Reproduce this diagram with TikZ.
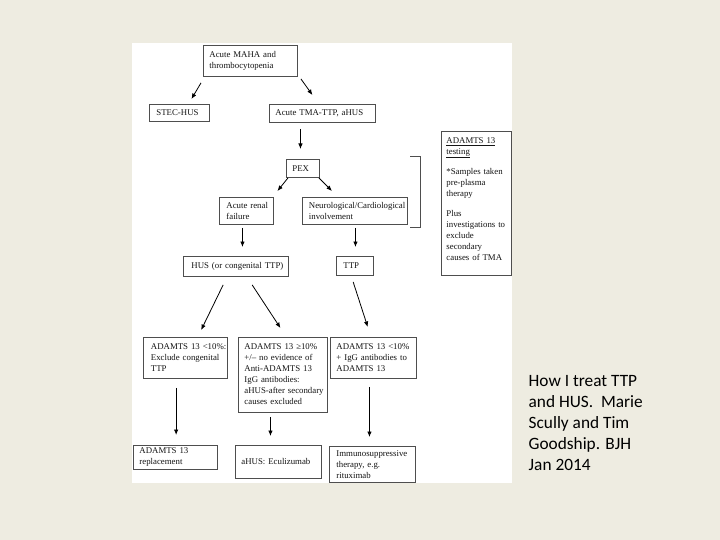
\documentclass[tikz,border=0pt]{standalone}
\usepackage{fontspec}
\setmainfont{Liberation Serif}
\newfontfamily\capfont{Carlito}
\usetikzlibrary{arrows.meta,calc}
\definecolor{bgc}{HTML}{EEECE1}
\definecolor{boxc}{HTML}{4E4E4E}
\definecolor{txtc}{HTML}{141414}
\tikzset{
  fbox/.style n args={3}{draw=boxc, line width=0.9pt, anchor=north west,
    inner xsep=0pt, inner ysep=0pt, text width=#2, minimum height=#3,
    align=left, text=txtc, font=\fontsize{8.8}{11}\selectfont,
    execute at begin node={\leftskip=#1\relax\hyphenpenalty=10000\relax\exhyphenpenalty=10000\relax}},
  arr/.style={-{Latex[length=5.5pt,width=4.5pt]}, line width=0.8pt, black},
  brk/.style={draw=boxc, line width=0.9pt},
  captext/.style={anchor=north west, inner sep=0pt, align=left, text=black,
    font=\capfont\fontsize{17.3}{21}\selectfont}
}
\begin{document}
\begin{tikzpicture}[x=1pt,y=-1pt]
\useasboundingbox (0,0) rectangle (720,540);
\fill[bgc] (0,0) rectangle (720,540);
\fill[white] (132,43) rectangle (512,483);

% boxes
\node[fbox={6pt}{94pt}{31pt}] (maha) at (203,45) {Acute MAHA and\\thrombocytopenia};
\node[fbox={7pt}{60pt}{17pt}] (stec) at (149,104) {STEC-HUS};
\node[fbox={6pt}{106pt}{18pt}] (tma) at (269,104) {Acute TMA-TTP, aHUS};
\node[fbox={6pt}{33pt}{18pt}] (pex) at (286,159) {PEX};
\node[fbox={7pt}{54pt}{27pt}] (renal) at (219,197) {Acute renal\\failure};
\node[fbox={6.5pt}{105pt}{27pt}] (neuro) at (302,197) {Neurological/Cardiological\\involvement};
\node[fbox={8pt}{105pt}{20pt}] (hus) at (183,256) {HUS (or congenital TTP)};
\node[fbox={7pt}{37pt}{19pt}] (ttp) at (336,256) {TTP};
\node[fbox={7.5pt}{84pt}{41pt}] (b1) at (143,337) {ADAMTS 13 <10\%:\\Exclude congenital\\TTP};
\node[fbox={6pt}{89pt}{75pt}] (b2) at (238,337) {ADAMTS 13 ≥10\%\\+/– no evidence of\\Anti-ADAMTS 13\\IgG antibodies:\\aHUS-after secondary\\causes excluded\rule[-2pt]{0pt}{1pt}};
\node[fbox={6pt}{86pt}{41pt}] (b3) at (330,337) {ADAMTS 13 <10\%\\+ IgG antibodies to\\ADAMTS 13};
\node[fbox={6pt}{84pt}{24pt}] (r1) at (133,445) {ADAMTS 13\\replacement};
\node[fbox={6pt}{86pt}{33pt}] (r2) at (235,445) {aHUS: Eculizumab};
\node[fbox={7pt}{86pt}{36pt}] (r3) at (329,446) {Immunosuppressive\\therapy, e.g.\\rituximab};
\node[fbox={5pt}{70pt}{144pt}] (test) at (441,131)
  {\underline{ADAMTS 13}\\\underline{testing}\\[9pt]*Samples taken\\pre-plasma\\therapy\\[9pt]Plus\\investigations to\\exclude\\secondary\\causes of TMA\rule[-9pt]{0pt}{1pt}};

% bracket
\draw[brk] (410,156) -- (420,156) -- (420,227) -- (410,227);

% arrows
\draw[arr] ($(maha.south west)+(-2,6)$) -- ($(stec.north)+(12,-5)$);
\draw[arr] ($(maha.south east)+(3,2)$) -- ($(tma.north)+(-10,-9)$);
\draw[arr] ($(tma.south)+(-22,6)$) -- ($(pex.north)+(-2.5,-10)$);
\draw[arr] ($(pex.south west)+(2,0)$) -- ($(renal.north)+(31,-6)$);
\draw[arr] ($(pex.south east)+(-1,0)$) -- ($(neuro.north)+(-23,-6)$);
\draw[arr] ($(renal.south)+(-4,3)$) -- ($(hus.north)+(6.5,-9)$);
\draw[arr] ($(neuro.south)+(0.5,3)$) -- ($(ttp.north)+(0.5,-9)$);
\draw[arr] ($(hus.south)+(-12.8,8)$) -- ($(b1.north)+(15.7,-7)$);
\draw[arr] ($(hus.south)+(16.2,8)$) -- ($(b2.north)+(-2.5,-9)$);
\draw[arr] ($(ttp.south)+(-1.8,6)$) -- ($(b3.north)+(-5.7,-10)$);
\draw[arr] ($(b1.south)+(-9.3,9)$) -- ($(r1.north)+(0.7,-10)$);
\draw[arr] ($(b2.south)+(-12.5,4)$) -- ($(r2.north)+(-8,-9)$);
\draw[arr] ($(b3.south)+(-4,8)$) -- ($(r3.north)+(-3,-9)$);

% caption
\node[captext] (caption) at (528.5,375.4) {How I treat TTP\\and HUS.~~Marie\\Scully and Tim\\Goodship. BJH\\Jan 2014};
\end{tikzpicture}
\end{document}
